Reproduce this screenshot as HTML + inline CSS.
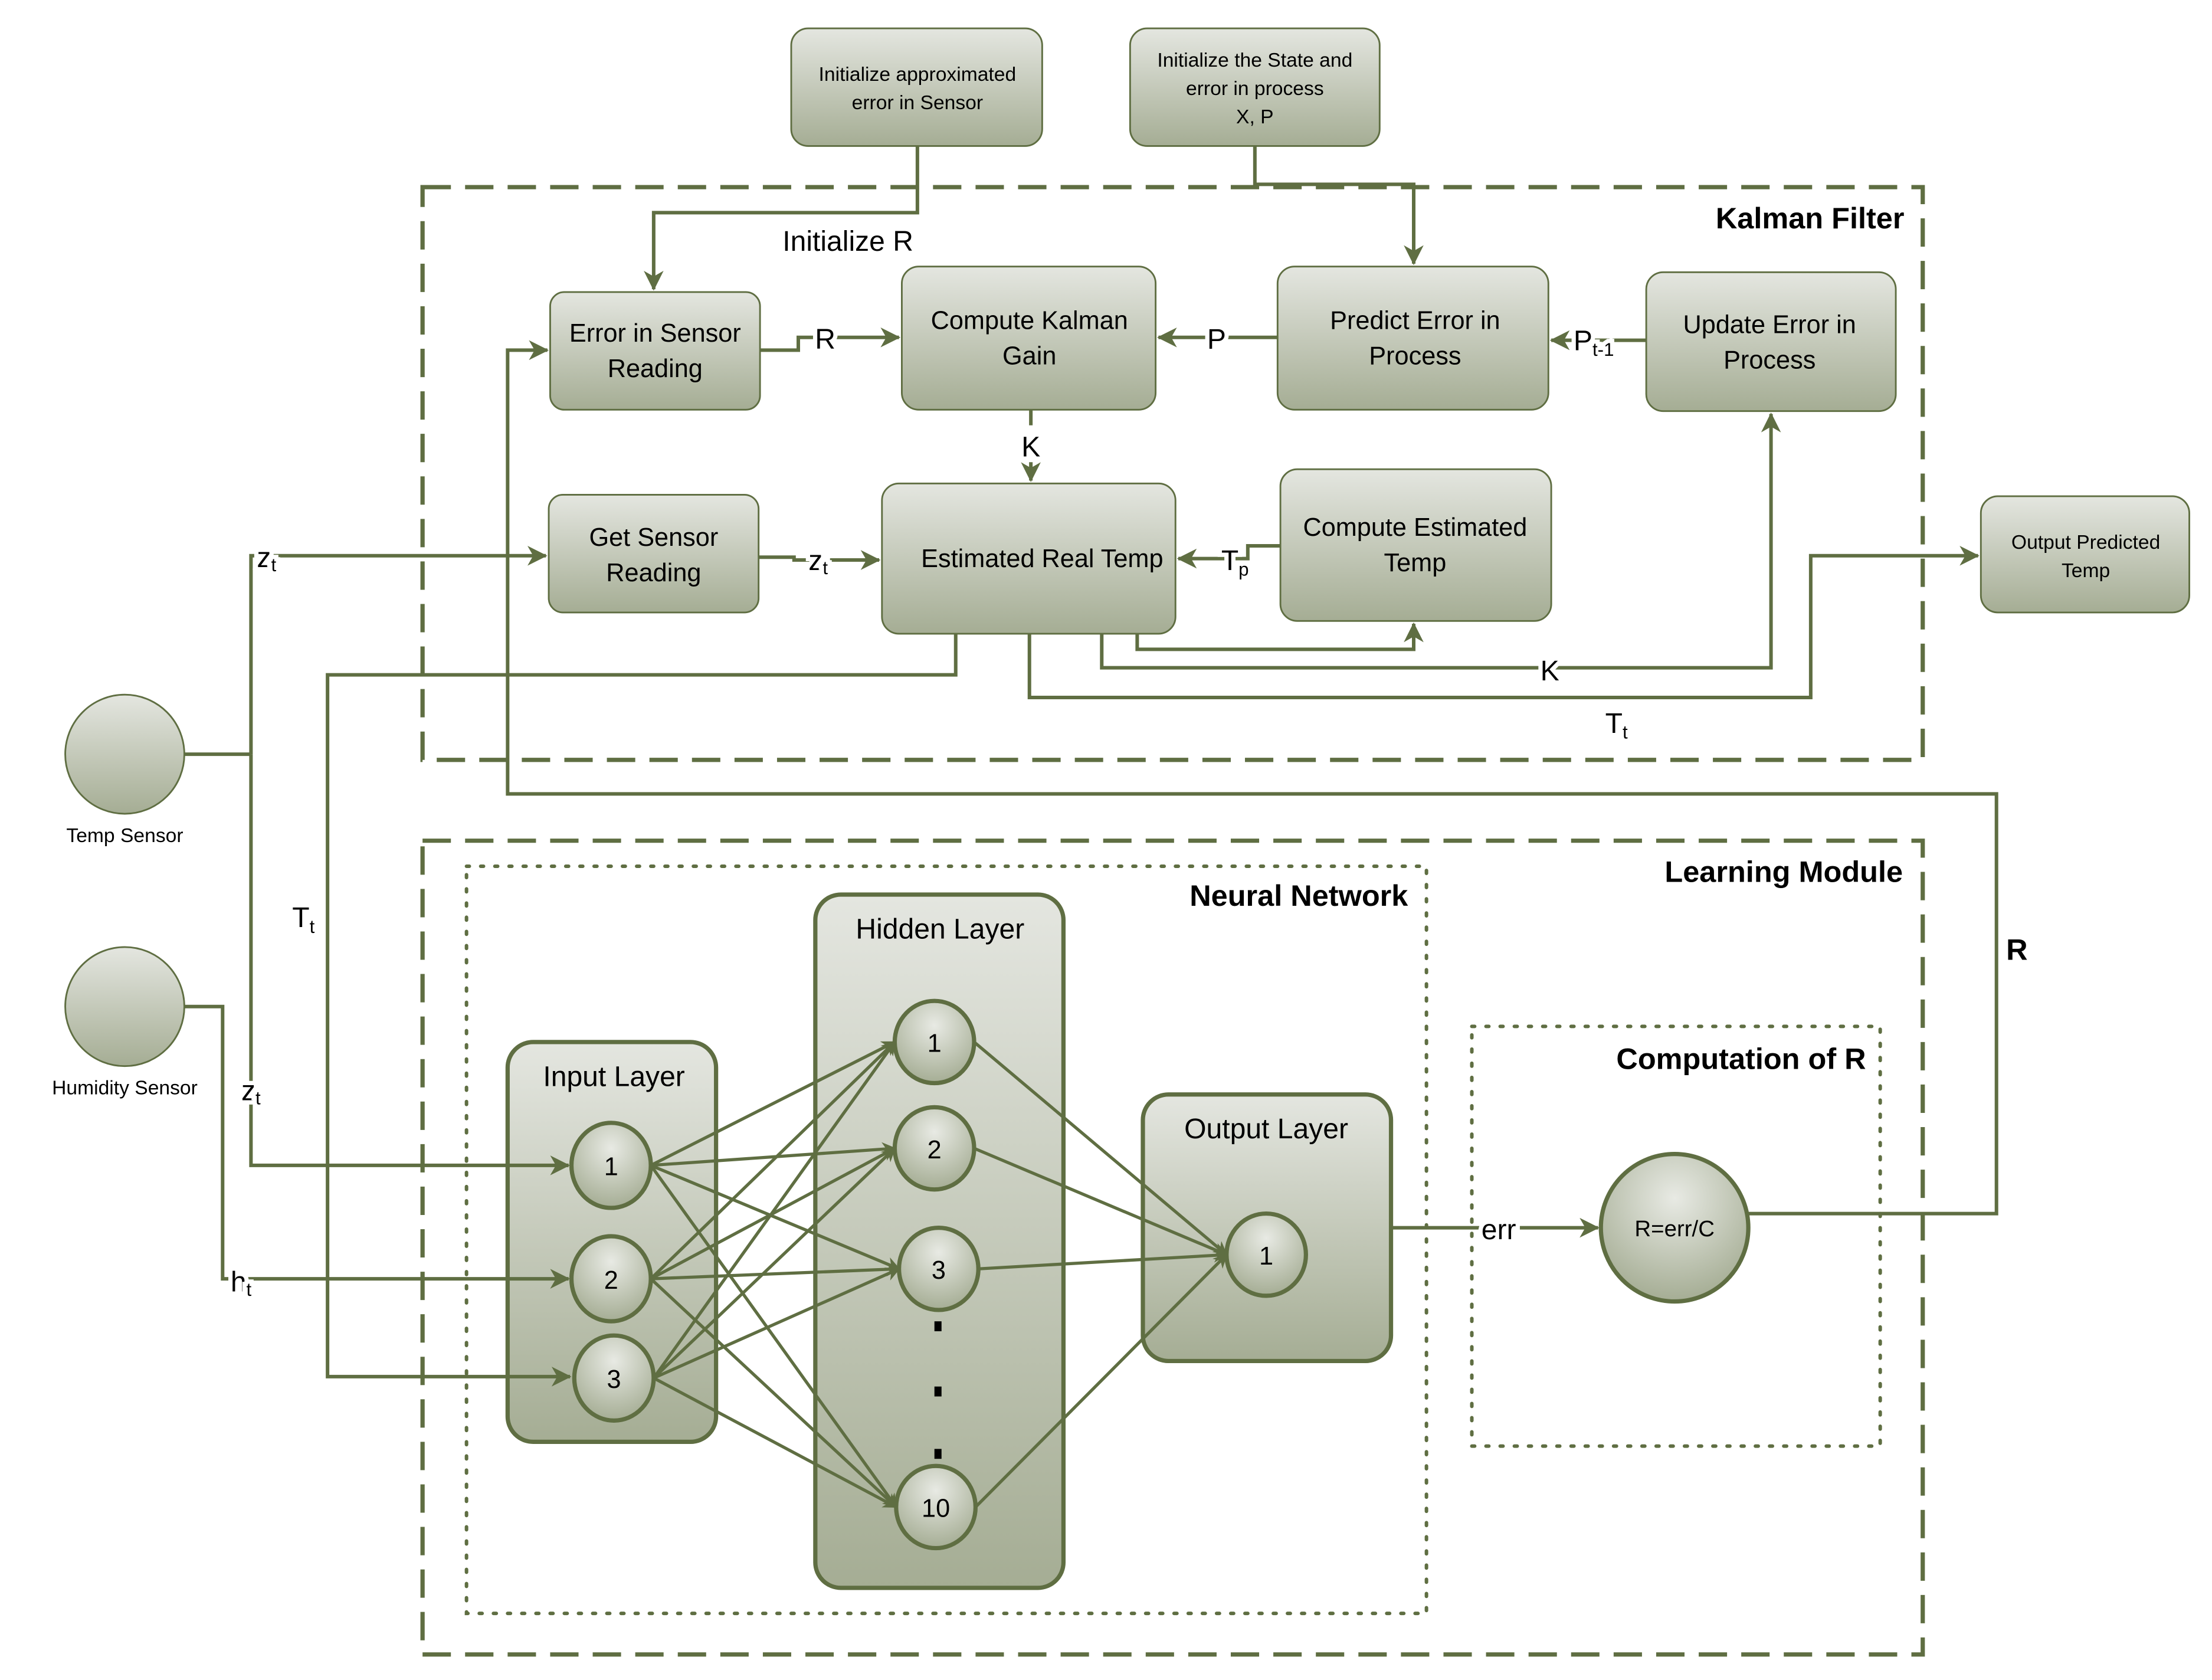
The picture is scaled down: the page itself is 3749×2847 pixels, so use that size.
<!DOCTYPE html>
<html><head><meta charset="utf-8"><style>
html,body{margin:0;padding:0;background:#fff;}
svg{display:block;}
text{font-family:"Liberation Sans",sans-serif;fill:#000;}
</style></head><body>
<svg width="3749" height="2847" viewBox="0 0 1560 1185" preserveAspectRatio="none" xmlns="http://www.w3.org/2000/svg">
<defs>
<linearGradient id="g" x1="0" y1="0" x2="0" y2="1"><stop offset="0" stop-color="#e4e6e0"/><stop offset="1" stop-color="#a5ad94"/></linearGradient>
<radialGradient id="gc" cx="0.5" cy="0.3" r="0.7"><stop offset="0" stop-color="#e8eae4"/><stop offset="1" stop-color="#a5ad94"/></radialGradient>
<marker id="a" markerWidth="10" markerHeight="10" refX="9" refY="5" orient="auto" markerUnits="userSpaceOnUse"><path d="M0,0 L10,5 L0,10 L3,5 z" fill="#5f6e42"/></marker>
<marker id="b" markerWidth="14" markerHeight="14" refX="13" refY="7" orient="auto" markerUnits="userSpaceOnUse"><path d="M0,0 L14,7 L0,14 L4,7 z" fill="#5f6e42"/></marker>
</defs>
<g fill="none" stroke="#5f6e42" stroke-width="3">
<rect x="298" y="132" width="1058" height="404" stroke-dasharray="20,10"/>
<rect x="298" y="593" width="1058" height="574" stroke-dasharray="20,10"/>
</g>
<g fill="none" stroke="#5f6e42" stroke-width="2.5" stroke-dasharray="2,8" stroke-linecap="round">
<rect x="329" y="611" width="677" height="527"/>
<rect x="1038" y="724" width="288" height="296"/>
</g>
<g fill="url(#g)" stroke="#5f6e42" stroke-width="1.2">
<rect x="558" y="20" width="177" height="83" rx="12"/>
<rect x="797" y="20" width="176" height="83" rx="12"/>
<rect x="388" y="206" width="148" height="83" rx="10"/>
<rect x="636" y="188" width="179" height="101" rx="12"/>
<rect x="901" y="188" width="191" height="101" rx="12"/>
<rect x="1161" y="192" width="176" height="98" rx="12"/>
<rect x="387" y="349" width="148" height="83" rx="10"/>
<rect x="622" y="341" width="207" height="106" rx="12"/>
<rect x="903" y="331" width="191" height="107" rx="12"/>
<rect x="1397" y="350" width="147" height="82" rx="12"/>
<circle cx="88" cy="532" r="42"/>
<circle cx="88" cy="710" r="42"/>
</g>
<g fill="url(#g)" stroke="#5f6e42" stroke-width="3">
<rect x="358" y="735" width="147" height="282" rx="18"/>
<rect x="575" y="631" width="175" height="489" rx="18"/>
<rect x="806" y="772" width="175" height="188" rx="18"/>
</g>
<g fill="none" stroke="#5f6e42" stroke-width="2.5">
<polyline points="647,103 647,150 461,150 461,204" marker-end="url(#b)"/>
<polyline points="885,103 885,130 997,130 997,186" marker-end="url(#b)"/>
<polyline points="536,247 563,247 563,238 634,238" marker-end="url(#b)"/>
<polyline points="901,238 817,238" marker-end="url(#b)"/>
<polyline points="1161,240 1094,240" marker-end="url(#b)"/>
<polyline points="727,289 727,300"/>
<polyline points="727,326 727,339" marker-end="url(#b)"/>
<polyline points="535,393 560,393 560,395 620,395" marker-end="url(#b)"/>
<polyline points="903,385 880,385 880,394 831,394" marker-end="url(#b)"/>
<polyline points="802,447 802,458 997,458 997,440" marker-end="url(#b)"/>
<polyline points="777,447 777,471 1249,471 1249,292" marker-end="url(#b)"/>
<polyline points="726,447 726,492 1277,492 1277,392 1395,392" marker-end="url(#b)"/>
<polyline points="674,447 674,476 231,476 231,971 402,971" marker-end="url(#b)"/>
<polyline points="130,532 177,532"/>
<polyline points="177,532 177,392 385,392" marker-end="url(#b)"/>
<polyline points="177,532 177,822 401,822" marker-end="url(#b)"/>
<polyline points="130,710 157,710 157,902 401,902" marker-end="url(#b)"/>
<polyline points="1233,856 1408,856 1408,560 358,560 358,247 386,247" marker-end="url(#b)"/>
<polyline points="981,866 1127,866" marker-end="url(#b)"/>
</g>
<g stroke="#5f6e42" stroke-width="2.2" fill="none">
<line x1="459" y1="822" x2="631" y2="735" marker-end="url(#a)"/>
<line x1="459" y1="822" x2="631" y2="810" marker-end="url(#a)"/>
<line x1="459" y1="822" x2="634" y2="895" marker-end="url(#a)"/>
<line x1="459" y1="822" x2="632" y2="1063" marker-end="url(#a)"/>
<line x1="459" y1="902" x2="631" y2="735" marker-end="url(#a)"/>
<line x1="459" y1="902" x2="631" y2="810" marker-end="url(#a)"/>
<line x1="459" y1="902" x2="634" y2="895" marker-end="url(#a)"/>
<line x1="459" y1="902" x2="632" y2="1063" marker-end="url(#a)"/>
<line x1="461" y1="972" x2="631" y2="735" marker-end="url(#a)"/>
<line x1="461" y1="972" x2="631" y2="810" marker-end="url(#a)"/>
<line x1="461" y1="972" x2="634" y2="895" marker-end="url(#a)"/>
<line x1="461" y1="972" x2="632" y2="1063" marker-end="url(#a)"/>
<line x1="687" y1="735" x2="865" y2="885" marker-end="url(#a)"/>
<line x1="687" y1="810" x2="865" y2="885" marker-end="url(#a)"/>
<line x1="690" y1="895" x2="865" y2="885" marker-end="url(#a)"/>
<line x1="688" y1="1063" x2="865" y2="885" marker-end="url(#a)"/>
</g>
<g fill="url(#gc)" stroke="#5f6e42" stroke-width="3">
<ellipse cx="431" cy="822" rx="28" ry="30"/>
<ellipse cx="431" cy="902" rx="28" ry="30"/>
<ellipse cx="433" cy="972" rx="28" ry="30"/>
<ellipse cx="659" cy="735" rx="28" ry="29"/>
<ellipse cx="659" cy="810" rx="28" ry="29"/>
<ellipse cx="662" cy="895" rx="28" ry="29"/>
<ellipse cx="660" cy="1063" rx="28" ry="29"/>
<ellipse cx="893" cy="885" rx="28" ry="29"/>
<circle cx="1181" cy="866" r="52"/>
</g>
<g fill="#000">
<rect x="659" y="932" width="5" height="7"/><rect x="659" y="978" width="5" height="7"/><rect x="659" y="1022" width="5" height="7"/>
</g>
<g font-size="14" text-anchor="middle">
<text x="647" y="57">Initialize approximated</text><text x="647" y="77">error in Sensor</text>
<text x="885" y="47">Initialize the State and</text><text x="885" y="67">error in process</text><text x="885" y="87">X, P</text>
<text x="1471" y="387">Output Predicted</text><text x="1471" y="407">Temp</text>
<text x="88" y="594">Temp Sensor</text>
<text x="88" y="772">Humidity Sensor</text>
</g>
<g font-size="18" text-anchor="middle">
<text x="462" y="241">Error in Sensor</text><text x="462" y="266">Reading</text>
<text x="726" y="232">Compute Kalman</text><text x="726" y="257">Gain</text>
<text x="998" y="232">Predict Error in</text><text x="998" y="257">Process</text>
<text x="1248" y="235">Update Error in</text><text x="1248" y="260">Process</text>
<text x="461" y="385">Get Sensor</text><text x="461" y="410">Reading</text>
<text x="735" y="400">Estimated Real Temp</text>
<text x="998" y="378">Compute Estimated</text><text x="998" y="403">Temp</text>
<text x="433" y="766" font-size="20">Input Layer</text>
<text x="663" y="662" font-size="20">Hidden Layer</text>
<text x="893" y="803" font-size="20">Output Layer</text>
<text x="431" y="829">1</text><text x="431" y="909">2</text><text x="433" y="979">3</text>
<text x="659" y="742">1</text><text x="659" y="817">2</text><text x="662" y="902">3</text><text x="660" y="1070">10</text>
<text x="893" y="892">1</text>
<text x="1181" y="872" font-size="16">R=err/C</text>
</g>
<g font-size="20" text-anchor="middle">
<text x="598" y="177">Initialize R</text>
<text x="582" y="246" style="paint-order:stroke" stroke="#fff" stroke-width="6">R</text>
<text x="858" y="246" style="paint-order:stroke" stroke="#fff" stroke-width="6">P</text>
<text x="1124" y="247" style="paint-order:stroke" stroke="#fff" stroke-width="6">P<tspan font-size="13" dy="4">t-1</tspan></text>
<text x="727" y="322">K</text>
<text x="577" y="402" style="paint-order:stroke" stroke="#fff" stroke-width="6">z<tspan font-size="13" dy="3">t</tspan></text>
<text x="871" y="402" style="paint-order:stroke" stroke="#fff" stroke-width="6">T<tspan font-size="13" dy="4">p</tspan></text>
<text x="1093" y="480" style="paint-order:stroke" stroke="#fff" stroke-width="6">K</text>
<text x="1140" y="517">T<tspan font-size="13" dy="4">t</tspan></text>
<text x="188" y="400" style="paint-order:stroke" stroke="#fff" stroke-width="6">z<tspan font-size="13" dy="3">t</tspan></text>
<text x="214" y="654" style="paint-order:stroke" stroke="#fff" stroke-width="6">T<tspan font-size="13" dy="4">t</tspan></text>
<text x="177" y="776" style="paint-order:stroke" stroke="#fff" stroke-width="6">z<tspan font-size="13" dy="3">t</tspan></text>
<text x="170" y="911" style="paint-order:stroke" stroke="#fff" stroke-width="6">h<tspan font-size="13" dy="3">t</tspan></text>
<text x="1057" y="874" style="paint-order:stroke" stroke="#fff" stroke-width="6">err</text>
</g>
<g font-size="21" font-weight="bold" text-anchor="end">
<text x="1343" y="161">Kalman Filter</text>
<text x="1342" y="622">Learning Module</text>
<text x="993" y="639">Neural Network</text>
<text x="1316" y="754">Computation of R</text>
<text x="1430" y="677">R</text>
</g>
</svg>
</body></html>
